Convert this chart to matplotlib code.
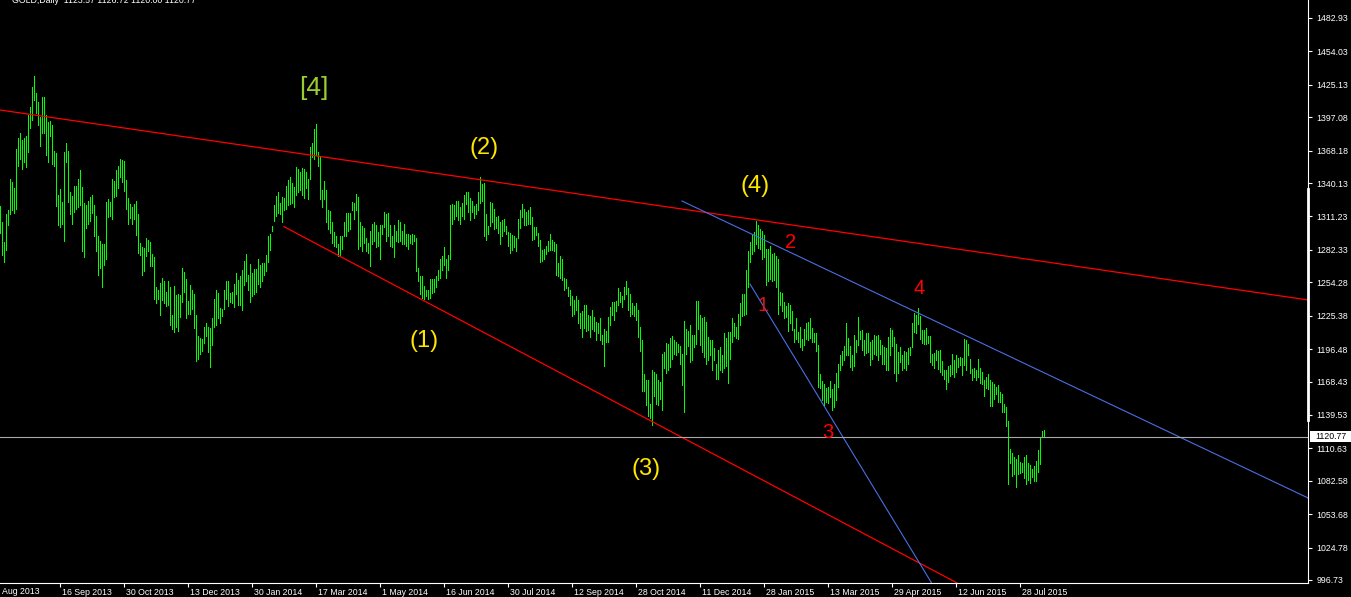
import matplotlib.pyplot as plt
from matplotlib import transforms
from matplotlib.patches import Rectangle


FIG_W, FIG_H, DPI = 1351, 597, 100
PLOT_RIGHT_PX = 1308
PLOT_BOTTOM_PX = 583

PRICE_TOP = 1498.5
PRICE_BOTTOM = 994.1
BAR_FIRST = -0.165
BAR_LAST = 653.8

# GOLD daily bars, Aug 2013 - Jul 2015 (high / low)
BAR_HIGHS = [
    1320, 1306, 1289, 1313, 1317, 1344, 1341, 1336, 1370, 1379,
    1383, 1377, 1379, 1381, 1399, 1406, 1423, 1433, 1418, 1410,
    1397, 1415, 1415, 1399, 1393, 1394, 1390, 1368, 1366, 1330,
    1335, 1324, 1367, 1375, 1368, 1332, 1329, 1338, 1338, 1344,
    1351, 1337, 1323, 1321, 1325, 1328, 1330, 1321, 1312, 1294,
    1290, 1287, 1287, 1324, 1326, 1324, 1344, 1342, 1351, 1355,
    1361, 1360, 1359, 1343, 1327, 1322, 1319, 1322, 1325, 1313,
    1288, 1285, 1284, 1293, 1291, 1289, 1279, 1276, 1250, 1248,
    1254, 1258, 1255, 1246, 1255, 1250, 1226, 1251, 1243, 1244,
    1243, 1267, 1263, 1257, 1238, 1252, 1248, 1244, 1226, 1208,
    1206, 1205, 1216, 1219, 1216, 1215, 1223, 1240, 1248, 1245,
    1232, 1231, 1248, 1255, 1255, 1245, 1246, 1253, 1262, 1256,
    1260, 1265, 1273, 1279, 1261, 1270, 1262, 1266, 1266, 1274,
    1269, 1271, 1271, 1278, 1294, 1296, 1303, 1321, 1329, 1332,
    1323, 1328, 1327, 1338, 1343, 1345, 1340, 1337, 1354, 1352,
    1350, 1353, 1352, 1350, 1344, 1371, 1375, 1387, 1391, 1367,
    1363, 1334, 1342, 1334, 1317, 1316, 1306, 1298, 1294, 1287,
    1294, 1294, 1306, 1314, 1314, 1314, 1324, 1323, 1331, 1328,
    1306, 1303, 1301, 1293, 1288, 1299, 1305, 1306, 1304, 1298,
    1304, 1304, 1315, 1313, 1314, 1304, 1294, 1304, 1299, 1308,
    1306, 1299, 1305, 1296, 1296, 1295, 1296, 1295, 1293, 1267,
    1260, 1260, 1251, 1248, 1248, 1257, 1257, 1257, 1260, 1265,
    1274, 1277, 1285, 1274, 1278, 1321, 1322, 1321, 1325, 1325,
    1319, 1323, 1330, 1332, 1332, 1327, 1325, 1320, 1322, 1332,
    1345, 1339, 1340, 1313, 1303, 1324, 1323, 1318, 1311, 1312,
    1306, 1308, 1309, 1303, 1298, 1297, 1295, 1294, 1293, 1309,
    1317, 1322, 1318, 1315, 1317, 1319, 1311, 1302, 1302, 1297,
    1291, 1282, 1283, 1286, 1290, 1296, 1291, 1289, 1287, 1271,
    1277, 1274, 1258, 1257, 1250, 1248, 1242, 1239, 1242, 1239,
    1228, 1229, 1235, 1235, 1226, 1225, 1230, 1224, 1220, 1219,
    1223, 1209, 1214, 1212, 1224, 1233, 1237, 1237, 1238, 1249,
    1246, 1242, 1250, 1255, 1249, 1244, 1236, 1234, 1236, 1230,
    1216, 1204, 1175, 1170, 1170, 1149, 1178, 1177, 1175, 1170,
    1168, 1192, 1194, 1202, 1201, 1206, 1208, 1204, 1203, 1201,
    1199, 1192, 1221, 1214, 1212, 1217, 1209, 1209, 1238, 1238,
    1226, 1223, 1224, 1220, 1207, 1204, 1204, 1197, 1184, 1196,
    1198, 1191, 1210, 1206, 1211, 1211, 1223, 1219, 1216, 1227,
    1236, 1244, 1244, 1265, 1281, 1289, 1295, 1298, 1307, 1304,
    1300, 1299, 1295, 1283, 1283, 1286, 1279, 1280, 1277, 1274,
    1246, 1245, 1237, 1234, 1236, 1235, 1229, 1214, 1223, 1211,
    1216, 1205, 1214, 1219, 1220, 1223, 1215, 1210, 1210, 1200,
    1175, 1169, 1166, 1163, 1164, 1169, 1162, 1166, 1176, 1184,
    1191, 1195, 1199, 1219, 1206, 1199, 1191, 1209, 1204, 1224,
    1212, 1213, 1204, 1210, 1210, 1203, 1204, 1209, 1208, 1209,
    1204, 1200, 1198, 1197, 1207, 1215, 1213, 1207, 1201, 1194,
    1198, 1191, 1195, 1194, 1197, 1198, 1219, 1228, 1226, 1232,
    1225, 1213, 1213, 1215, 1208, 1208, 1192, 1193, 1196, 1195,
    1196, 1186, 1178, 1178, 1182, 1183, 1192, 1187, 1191, 1189,
    1190, 1189, 1205, 1204, 1201, 1188, 1179, 1180, 1178, 1188,
    1180, 1177, 1170, 1172, 1175, 1170, 1168, 1166, 1164, 1165,
    1159, 1158, 1149, 1146, 1134, 1110, 1107, 1103, 1101, 1105,
    1099, 1098, 1103, 1105, 1098, 1096, 1093, 1095, 1100, 1109,
    1120, 1126, 1126.72,
]

BAR_LOWS = [
    1297, 1278, 1272, 1282, 1304, 1313, 1317, 1314, 1318, 1355,
    1361, 1352, 1358, 1354, 1367, 1388, 1395, 1412, 1401, 1390,
    1372, 1383, 1383, 1364, 1358, 1381, 1357, 1355, 1320, 1304,
    1302, 1305, 1290, 1358, 1324, 1313, 1305, 1315, 1318, 1319,
    1321, 1281, 1276, 1301, 1305, 1307, 1314, 1294, 1281, 1261,
    1267, 1250, 1269, 1274, 1311, 1312, 1309, 1328, 1329, 1336,
    1345, 1341, 1333, 1318, 1305, 1310, 1305, 1309, 1295, 1280,
    1278, 1261, 1264, 1277, 1281, 1268, 1268, 1240, 1236, 1240,
    1226, 1239, 1236, 1234, 1235, 1217, 1214, 1211, 1216, 1212,
    1224, 1237, 1246, 1223, 1227, 1227, 1231, 1215, 1186, 1188,
    1192, 1195, 1202, 1208, 1194, 1181, 1200, 1216, 1217, 1223,
    1219, 1225, 1231, 1240, 1234, 1237, 1236, 1233, 1244, 1235,
    1235, 1230, 1252, 1255, 1248, 1237, 1242, 1244, 1246, 1253,
    1250, 1255, 1261, 1264, 1272, 1282, 1299, 1307, 1312, 1314,
    1313, 1306, 1317, 1318, 1321, 1322, 1323, 1319, 1330, 1332,
    1334, 1330, 1327, 1336, 1326, 1344, 1363, 1361, 1364, 1355,
    1326, 1319, 1326, 1306, 1300, 1297, 1288, 1286, 1285, 1277,
    1278, 1283, 1294, 1294, 1299, 1300, 1317, 1309, 1317, 1283,
    1286, 1281, 1288, 1281, 1280, 1268, 1287, 1290, 1285, 1286,
    1274, 1296, 1302, 1290, 1294, 1286, 1285, 1276, 1290, 1289,
    1290, 1287, 1287, 1286, 1283, 1288, 1287, 1290, 1264, 1255,
    1244, 1241, 1240, 1242, 1240, 1241, 1245, 1246, 1250, 1256,
    1258, 1265, 1269, 1258, 1265, 1274, 1305, 1309, 1312, 1308,
    1305, 1312, 1309, 1322, 1315, 1308, 1315, 1310, 1313, 1317,
    1323, 1325, 1294, 1291, 1296, 1303, 1306, 1300, 1301, 1297,
    1287, 1294, 1299, 1296, 1286, 1280, 1282, 1285, 1281, 1293,
    1301, 1311, 1304, 1304, 1305, 1305, 1291, 1292, 1295, 1286,
    1272, 1273, 1274, 1279, 1281, 1282, 1282, 1281, 1261, 1260,
    1258, 1256, 1248, 1249, 1242, 1235, 1225, 1227, 1230, 1219,
    1215, 1207, 1215, 1212, 1213, 1207, 1214, 1212, 1204, 1210,
    1204, 1201, 1182, 1203, 1203, 1217, 1226, 1222, 1229, 1235,
    1237, 1233, 1240, 1244, 1230, 1225, 1227, 1225, 1222, 1207,
    1195, 1160, 1160, 1148, 1139, 1137, 1131, 1156, 1149, 1148,
    1153, 1144, 1180, 1176, 1178, 1181, 1188, 1192, 1191, 1194,
    1184, 1165, 1142, 1192, 1199, 1185, 1187, 1198, 1201, 1214,
    1200, 1194, 1190, 1184, 1187, 1191, 1178, 1187, 1171, 1171,
    1178, 1177, 1180, 1182, 1167, 1188, 1203, 1208, 1206, 1205,
    1217, 1225, 1226, 1227, 1250, 1272, 1279, 1281, 1287, 1284,
    1283, 1274, 1276, 1252, 1255, 1257, 1255, 1256, 1250, 1227,
    1235, 1229, 1223, 1224, 1212, 1219, 1213, 1203, 1205, 1203,
    1198, 1196, 1200, 1205, 1204, 1206, 1203, 1203, 1195, 1164,
    1163, 1152, 1148, 1151, 1150, 1155, 1144, 1146, 1152, 1164,
    1178, 1183, 1187, 1191, 1191, 1181, 1178, 1182, 1194, 1200,
    1205, 1196, 1191, 1193, 1194, 1183, 1188, 1192, 1191, 1187,
    1192, 1184, 1184, 1178, 1178, 1191, 1199, 1176, 1169, 1176,
    1185, 1178, 1180, 1178, 1184, 1191, 1198, 1211, 1210, 1218,
    1205, 1202, 1201, 1201, 1202, 1185, 1183, 1180, 1187, 1179,
    1177, 1174, 1171, 1162, 1168, 1173, 1175, 1172, 1177, 1181,
    1183, 1174, 1183, 1178, 1191, 1176, 1170, 1172, 1170, 1172,
    1167, 1166, 1156, 1163, 1162, 1147, 1147, 1153, 1158, 1151,
    1151, 1142, 1142, 1130, 1080, 1098, 1087, 1088, 1077, 1088,
    1089, 1090, 1085, 1080, 1083, 1081, 1086, 1082, 1082, 1090,
    1097, 1120, 1120.00,
]

PRICE_TICKS = [
    1482.93, 1454.03, 1425.13, 1397.08, 1368.18, 1340.13, 1311.23,
    1282.33, 1254.28, 1225.38, 1196.48, 1168.43, 1139.53, 1110.63,
    1082.58, 1053.68, 1024.78, 996.73,
]

DATE_TICKS = [30, 62, 94, 126, 158, 190, 222, 254, 286, 318, 350, 382,
              414, 446, 478, 510]
DATE_LABELS = [
    "16 Sep 2013", "30 Oct 2013", "13 Dec 2013", "30 Jan 2014",
    "17 Mar 2014", "1 May 2014", "16 Jun 2014", "30 Jul 2014",
    "12 Sep 2014", "28 Oct 2014", "11 Dec 2014", "28 Jan 2015",
    "13 Mar 2015", "29 Apr 2015", "12 Jun 2015", "28 Jul 2015",
]
FIRST_DATE_LABEL = "Aug 2013"

LAST_PRICE = 1120.77
HEADER = "GOLD,Daily  1123.57 1126.72 1120.00 1120.77"

# trend lines: (bar, price) anchors
RED_UPPER_BARS = [0.0, 653.8]
RED_UPPER_PRICES = [1403.3, 1239.0]
RED_LOWER_BARS = [141.8, 500.0]
RED_LOWER_PRICES = [1302.4, 974.3]
BLUE_UPPER_BARS = [340.8, 653.8]
BLUE_UPPER_PRICES = [1324.6, 1067.7]
BLUE_STEEP_BARS = [374.8, 470.0]
BLUE_STEEP_PRICES = [1252.8, 981.6]

# Elliott wave labels
WAVE_TEXT = ["[4]", "(1)", "(2)", "(3)", "(4)", "1", "2", "3", "4"]
WAVE_BAR = [156.8, 211.8, 241.8, 322.8, 377.3, 381.3, 395.3, 413.8, 459.3]
WAVE_PRICE = [1422.4, 1203.5, 1370.5, 1092.8, 1337.6, 1234.6, 1289.1,
              1123.9, 1248.5]
WAVE_COLOR = ["#9acd32", "#ffe600", "#ffe600", "#ffe600", "#ffe600",
              "#e01010", "#ff0000", "#ff0000", "#ff0000"]
WAVE_SIZE = [19, 17, 17, 17, 17, 14.5, 14.5, 14.5, 14.5]

BAR_COLOR = "#00ff00"
RED = "#ff0000"
BLUE = "#4a6fe3"
TICK_SIZE = 6.3


def main():
    plt.rcParams["font.family"] = ["Liberation Sans", "DejaVu Sans"]

    fig = plt.figure(
        figsize=(FIG_W / DPI, FIG_H / DPI),
        dpi=DPI,
        facecolor="black",
    )
    ax = fig.add_axes([
        0,
        1 - PLOT_BOTTOM_PX / FIG_H,
        PLOT_RIGHT_PX / FIG_W,
        PLOT_BOTTOM_PX / FIG_H,
    ])
    ax.set_facecolor("black")
    ax.set_xlim(BAR_FIRST, BAR_LAST)
    ax.set_ylim(PRICE_BOTTOM, PRICE_TOP)

    # price bars
    bar_index = list(range(len(BAR_HIGHS)))
    ax.vlines(
        bar_index,
        BAR_LOWS,
        BAR_HIGHS,
        colors=BAR_COLOR,
        linewidth=0.6,
        antialiased=False,
    )

    # trend lines
    ax.plot(RED_UPPER_BARS, RED_UPPER_PRICES, color=RED, lw=0.9)
    ax.plot(RED_LOWER_BARS, RED_LOWER_PRICES, color=RED, lw=0.9)
    ax.plot(BLUE_UPPER_BARS, BLUE_UPPER_PRICES, color=BLUE, lw=0.8)
    ax.plot(BLUE_STEEP_BARS, BLUE_STEEP_PRICES, color=BLUE, lw=0.8)

    # current price line
    ax.axhline(LAST_PRICE, color="#a8a8a8", lw=0.8)

    for text, bar, price, color, size in zip(
        WAVE_TEXT, WAVE_BAR, WAVE_PRICE, WAVE_COLOR, WAVE_SIZE
    ):
        ax.text(bar, price, text, color=color, fontsize=size,
                ha="center", va="center")

    # axes frame
    for side in ["top", "left"]:
        ax.spines[side].set_visible(False)
    for side in ["right", "bottom"]:
        ax.spines[side].set_color("white")
        ax.spines[side].set_linewidth(0.8)

    ax.yaxis.tick_right()
    ax.set_yticks(PRICE_TICKS)
    ax.set_yticklabels([f"{v:.2f}" for v in PRICE_TICKS])
    ax.tick_params(axis="y", colors="white", length=3, width=0.8,
                   pad=3, labelsize=TICK_SIZE)

    ax.set_xticks(DATE_TICKS)
    ax.set_xticklabels(DATE_LABELS, ha="left")
    ax.tick_params(axis="x", colors="white", length=3, width=0.8,
                   pad=0.5, labelsize=TICK_SIZE)
    shift = transforms.ScaledTranslation(2 / DPI, 0, fig.dpi_scale_trans)
    for label in ax.get_xticklabels():
        label.set_transform(label.get_transform() + shift)

    fig.text(2 / FIG_W, 1 - 594 / FIG_H, FIRST_DATE_LABEL, color="white",
             fontsize=TICK_SIZE, va="baseline", ha="left")

    # thick marker on the price scale
    scale_mark = transforms.blended_transform_factory(ax.transAxes,
                                                      ax.transData)
    ax.plot([1, 1], [1335, 1135], transform=scale_mark, color="white",
            lw=2.0, clip_on=False)

    # last price box
    box_trans = transforms.blended_transform_factory(fig.transFigure,
                                                     ax.transData)
    fig.add_artist(Rectangle(
        (1310 / FIG_W, LAST_PRICE - 4.5),
        1 - 1310 / FIG_W,
        9.0,
        transform=box_trans,
        facecolor="white",
        edgecolor="none",
    ))
    fig.text(1315 / FIG_W, LAST_PRICE, f"{LAST_PRICE:.2f}",
             transform=box_trans, color="black", fontsize=TICK_SIZE,
             va="center", ha="left")

    # header (cut at the top edge)
    fig.text(12 / FIG_W, 1 - 3 / FIG_H, HEADER, color="white",
             fontsize=TICK_SIZE, va="baseline", ha="left")

    fig.savefig("out.png", dpi=DPI, facecolor="black")
    plt.close(fig)


if __name__ == "__main__":
    main()
